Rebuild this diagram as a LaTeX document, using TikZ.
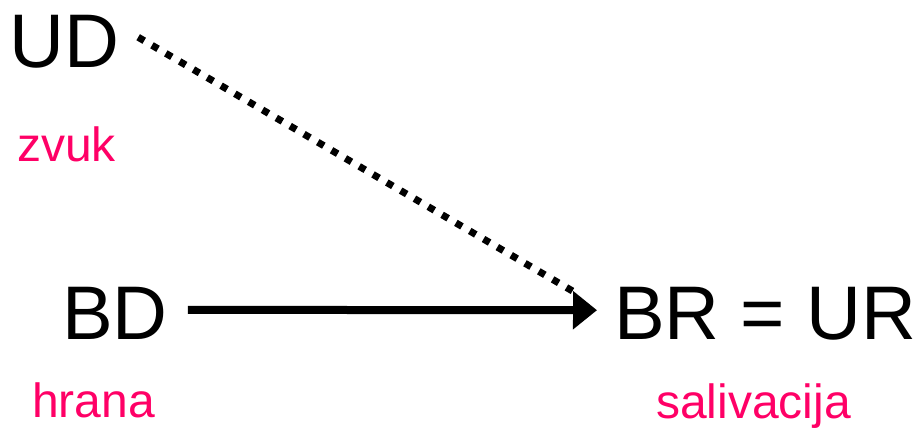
\documentclass[tikz,border=0pt]{standalone}
\usepackage{fontspec}
\setmainfont{Liberation Sans}
\usepackage{tikz}
\usetikzlibrary{
  arrows.meta,calc
}
\definecolor{Pink}{RGB}{255,0,102}

\begin{document}
\begin{tikzpicture}[x=1pt,y=1pt,
    big/.style={inner sep=0pt,anchor=base west,font=\fontsize{76}{80}\selectfont},
    small/.style={inner sep=0pt,anchor=base west,text=Pink,font=\fontsize{48}{50}\selectfont}]
      \useasboundingbox (0,0) rectangle (918,430);
      % stimuli and responses
      \node[big] (ud) at (9,362) {UD};
      \node[small] (zvuk) at (17,268) {zvuk};
      \node[big] (bd) at (62,90) {BD};
      \node[small] (hrana) at (32,12) {hrana};
      \node[big] (br) at (614,90) {BR = UR};
      \node[small] (sal) at (656,11) {salivacija};
      % connections
      \draw[line width=8pt,-{Triangle[length=24pt,width=37pt]},
        shorten <=20pt,shorten >=17pt]
        ([yshift=4pt]bd.east) -- ([yshift=4pt]br.west);
      \draw[line width=7pt,dash pattern=on 7pt off 9pt]
        ($(ud.east)+(19,5)$) -- ($(br.west)+(-36,20)$);
    \end{tikzpicture}
\end{document}
